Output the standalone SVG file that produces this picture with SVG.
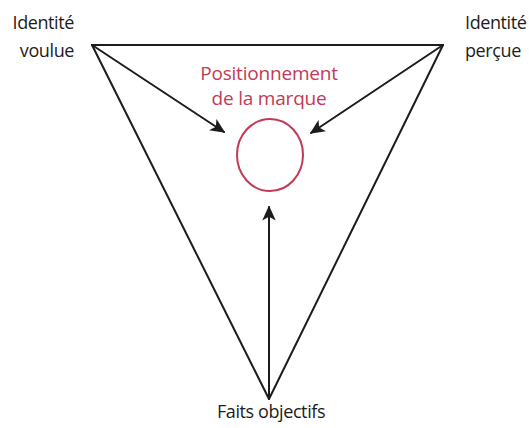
<svg xmlns="http://www.w3.org/2000/svg" width="529" height="428" viewBox="0 0 529 428">
  <style>
    .edge { stroke: #1c1c1c; stroke-width: 2; fill: none; stroke-linecap: round; }
    .lbl { font-family: "Open Sans", "Liberation Sans", sans-serif; font-size: 18px; letter-spacing: -0.4px; fill: #1c1c1c; }
    .red { font-family: "Open Sans", "Liberation Sans", sans-serif; font-size: 19px; letter-spacing: -0.2px; fill: #c23a55; text-anchor: middle; }
  </style>
  <defs>
    <marker id="head" viewBox="0 0 10 10" refX="9" refY="5" markerWidth="15" markerHeight="15" markerUnits="userSpaceOnUse" orient="auto">
      <path d="M0,0.5 L10,5 L0,9.5 L2.5,5 Z" fill="#1c1c1c"/>
    </marker>
  </defs>
  <rect width="529" height="428" fill="#ffffff"/>

  <!-- triangle sides and arrows -->
  <g id="connectors">
    <line class="edge" x1="92" y1="45" x2="443" y2="45" stroke-width="2.5"/>
    <line class="edge" x1="92" y1="45" x2="269" y2="399"/>
    <line class="edge" x1="443" y1="45" x2="269" y2="399"/>
    <line class="edge" x1="92" y1="45" x2="224" y2="132" marker-end="url(#head)"/>
    <line class="edge" x1="443" y1="45" x2="311" y2="133" marker-end="url(#head)"/>
    <line class="edge" x1="269" y1="399" x2="269" y2="207" marker-end="url(#head)"/>
  </g>

  <g id="identite-voulue">
    <text class="lbl" x="74" y="29" text-anchor="end">Identité</text>
    <text class="lbl" x="74" y="57" text-anchor="end">voulue</text>
  </g>

  <g id="identite-percue">
    <text class="lbl" x="465" y="29">Identité</text>
    <text class="lbl" x="465" y="57">perçue</text>
  </g>

  <g id="positionnement">
    <text class="red" x="269" y="80">Positionnement</text>
    <text class="red" x="269" y="105">de la marque</text>
    <ellipse cx="270" cy="155" rx="33" ry="36" fill="none" stroke="#c23a55" stroke-width="2"/>
  </g>

  <g id="faits-objectifs">
    <text class="lbl" x="271" y="418" text-anchor="middle">Faits objectifs</text>
  </g>
</svg>
